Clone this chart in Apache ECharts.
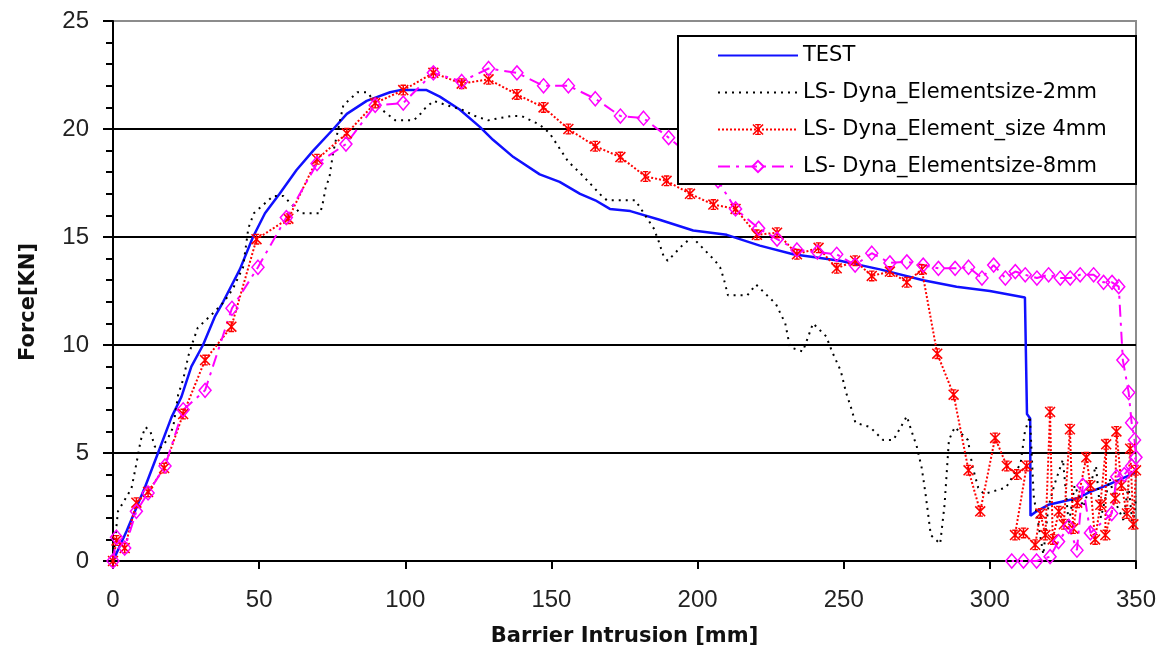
<!DOCTYPE html>
<html>
<head>
<meta charset="utf-8">
<script src="https://cdn.jsdelivr.net/npm/echarts@6/dist/echarts.min.js"></script>
<style>
  html, body { margin: 0; padding: 0; background: #fff; }
  #chart { width: 1160px; height: 654px; }
</style>
</head>
<body>
<div id="chart"></div>
<script>
// series names as in the legend
var seriesNames = ['TEST', 'LS- Dyna_Elementsize-2mm', 'LS- Dyna_Element_size 4mm', 'LS- Dyna_Elementsize-8mm'];

// [intrusion mm, force kN]
var testData = [
  [0,0],[4.7,1.4],[10.9,3.4],[15.4,5.0],[20,6.65],[23.4,7.6],[26.8,9.0],[30.8,10.0],[34.8,11.3],[37.7,12.0],
  [43.4,13.5],[47.9,15.0],[52,16.1],[57,17.0],[62.8,18.1],[68.5,19.0],[75.4,20.0],[80,20.7],[86.8,21.3],
  [94.8,21.7],[98.2,21.8],[107.3,21.8],[111.8,21.5],[118.6,20.9],[125.5,20.1],[130,19.5],[137,18.7],[146,17.9],
  [152.8,17.55],[159.8,17.0],[165,16.7],[170,16.3],[177,16.2],[187,15.8],[198.5,15.3],[210,15.1],[221.3,14.6],
  [232.7,14.2],[248.7,13.9],[262.4,13.5],[277.2,13.0],[288.6,12.7],[300,12.5],[312,12.2],[312.6,12.2],
  [312.7,6.8],[313.8,6.6],[313.9,2.1],[316,2.3],[320,2.6],[326.4,2.8],[329.8,2.9],[334.3,3.2],[340,3.5],
  [345,3.8],[350,4.1]
];

var mesh2Data = [
  [0,0],[1.7,2.3],[6.3,3.35],[8,4.5],[9.5,5.6],[11.1,6.2],[12.8,6.0],[14.3,5.3],[16,5.2],[18.5,5.6],[20.6,6.2],
  [22.3,7.7],[24,8.4],[25.8,9.5],[27.2,10.1],[29,10.8],[33.7,11.4],[38,12.0],[41,12.6],[44.5,13.6],[46.3,15.4],
  [48.2,16.1],[54.8,16.9],[58.3,16.9],[64.1,16.1],[70.9,16.1],[72,16.7],[72.6,17.2],[74.1,17.8],[75.3,18.9],
  [77.7,20.4],[78.8,21.1],[83.6,21.7],[87,21.7],[91,21.0],[96.6,20.4],[102.8,20.4],[104.6,20.6],[106.3,20.9],
  [109.7,21.3],[114.2,21.1],[119.3,20.9],[123.9,20.6],[128.4,20.4],[132,20.5],[136.4,20.6],[139.8,20.6],
  [146,20.2],[149.4,19.8],[155.7,18.5],[161,17.8],[167.2,16.9],[169,16.7],[178.7,16.7],[185,15.4],[186.7,14.8],
  [188.4,14.1],[189.8,13.9],[194.7,14.6],[198.1,15.0],[206,13.9],[207.7,13.6],[208.9,13.1],[210.4,12.3],
  [217,12.3],[220,12.8],[226.8,11.9],[230,11.0],[231.6,9.9],[236,9.7],[239.5,11.0],[244,10.4],[246,9.7],
  [249,8.8],[250.8,7.8],[252.5,7.1],[254,6.4],[259,6.2],[263.5,5.6],[267,5.6],[271.6,6.7],[273,6.1],[275,5.3],
  [276.7,4.3],[278,3.1],[279.8,1.2],[283,0.8],[284.5,2.6],[286,5.6],[288,6.2],[292.5,5.6],[294,4.4],[296,3.4],
  [298,3.1],[305.5,3.4],[310.5,4.5],[312,6.0],[313.7,6.7],[315,3.0],[318.3,0.3],[320,2.5],[322,3.5],[325,4.7],
  [327,1.7],[329,3.5],[332,2.5],[336.3,4.4],[338,2.0],[341,3.8],[343,2.7],[345.7,1.9],[347.4,3.5],[349,1.5],[350,3.0]
];

var mesh4Data = [
  [0,0],[1.2,0.95],[4,0.6],[8,2.7],[12,3.2],[17.5,4.3],[24,6.8],[31.5,9.3],[40.5,10.85],[49.1,14.9],[60,15.85],
  [69.8,18.6],[80,19.8],[89.7,21.2],[99.3,21.8],[109.6,22.6],[119.3,22.1],[128.5,22.3],[138.2,21.6],[147.3,21.0],
  [155.8,20.0],[165,19.2],[173.6,18.7],[182.2,17.8],[189.4,17.6],[197.4,17.0],[205.4,16.5],[213,16.3],[220.3,15.1],
  [227.2,15.2],[234,14.2],[241.4,14.5],[247.6,13.55],[253.9,13.9],[259.6,13.2],[265.8,13.4],[271.6,12.9],
  [276.7,13.5],[282,9.6],[287.6,7.7],[292.7,4.2],[296.7,2.3],[301.8,5.7],[305.8,4.4],[309.2,4.0],[312.6,4.4],
  [308.6,1.2],[311.5,1.3],[315.5,0.75],[317.3,2.2],[319,1.2],[320.6,6.9],[321.5,1.0],[323.6,2.3],[325.3,1.7],
  [327.4,6.1],[328.5,1.5],[329.9,2.7],[333,4.8],[334.4,3.5],[336,1.0],[337.8,2.6],[339.8,5.4],[339.5,1.2],
  [342.9,2.9],[343.3,6.0],[345,3.5],[346.9,2.2],[348,5.2],[349.1,1.7],[350,4.2]
];

var mesh8Data = [
  [0,0],[1.2,1.1],[4,0.6],[8,2.3],[12,3.15],[17.8,4.4],[24,7.0],[31.5,7.9],[40.7,11.7],[49.6,13.6],[59.3,15.9],
  [69.8,18.4],[79.7,19.3],[89.7,21.1],[99.3,21.2],[109.6,22.6],[119.3,22.2],[128.5,22.8],[138.2,22.6],[147.3,22.0],
  [155.8,22.0],[165,21.4],[173.6,20.6],[181.5,20.5],[190.1,19.6],[199,18.6],[207,17.6],[213,16.3],[220.9,15.4],
  [227.2,14.9],[234,14.4],[241,14.3],[247.6,14.2],[253.9,13.7],[259.6,14.25],[265.8,13.8],[271.6,13.85],
  [277.2,13.7],[282.4,13.55],[288.1,13.55],[292.7,13.6],[297.3,13.1],[301.3,13.7],[305.3,13.1],[308.7,13.4],
  [312.1,13.25],[316.1,13.1],[320.1,13.25],[324.1,13.1],[327.5,13.1],[330.9,13.25],[335.5,13.25],[338.9,12.9],
  [341.8,12.9],[344.1,12.7],[345.5,9.3],[347.5,7.8],[348.5,6.4],[349.5,5.6],[350,4.8],[348.5,4.4],[346,4.0],
  [343.4,3.9],[341.7,2.2],[334.4,1.3],[331.8,3.5],[329.8,0.5],[327,1.6],[323.5,0.9],[320.6,0.2],[316,0],
  [311.5,0],[307.5,0]
];

// asterisk marker like the old Excel "*" marker
var starPath = 'path://M4.3 0H5.7V10H4.3Z M0 1L1 0L10 9L9 10Z M9 0L10 1L1 10L0 9Z M2.5 0H7.5V1.2H2.5Z M2.5 8.8H7.5V10H2.5Z';

var chart = echarts.init(document.getElementById('chart'));

var tickFont = { fontFamily: 'Liberation Sans', fontSize: 24, color: '#222' };
var nameFont = { fontFamily: 'DejaVu Sans', fontWeight: 'bold', fontSize: 21, color: '#111' };
var noMarker = 'rgba(0,0,0,0)'; // hides the legend dot on the plain line series

var option = {
  animation: false,
  backgroundColor: '#fff',
  grid: {
    left: 113, right: 24, top: 21, bottom: 93,
    show: true, borderColor: '#8c8c8c', borderWidth: 2, backgroundColor: '#fff'
  },
  xAxis: {
    type: 'value', min: 0, max: 350, interval: 50,
    name: 'Barrier Intrusion [mm]', nameLocation: 'middle', nameGap: 65,
    nameTextStyle: nameFont,
    axisLine: { lineStyle: { color: '#000', width: 2 } },
    axisTick: { length: 8, lineStyle: { color: '#000', width: 2 } },
    axisLabel: Object.assign({ margin: 27 }, tickFont),
    splitLine: { show: false }
  },
  yAxis: {
    type: 'value', min: 0, max: 25, interval: 5,
    name: 'Force[KN]', nameLocation: 'middle', nameGap: 74,
    nameTextStyle: Object.assign({ padding: [0, 22, 0, 0] }, nameFont),
    axisLine: { show: true, lineStyle: { color: '#000', width: 2 } },
    axisTick: { length: 10, lineStyle: { color: '#000', width: 2 } },
    minorTick: { show: true, splitNumber: 5, length: 7, lineStyle: { color: '#000', width: 2 } },
    axisLabel: Object.assign({ margin: 24 }, tickFont),
    splitLine: { show: true, showMinLine: false, showMaxLine: false, lineStyle: { color: '#000', width: 2 } }
  },
  legend: {
    orient: 'vertical', left: 717, top: 45, padding: 0,
    itemWidth: 80, itemHeight: 14, itemGap: 16, z: 20,
    textStyle: { fontFamily: 'DejaVu Sans', fontSize: 21, lineHeight: 21, color: '#000' },
    data: seriesNames
  },
  graphic: [{
    type: 'rect', left: 677, top: 35, z: 10,
    shape: { width: 458, height: 148 },
    style: { fill: '#fff', stroke: '#000', lineWidth: 2 }
  }],
  series: [
    {
      name: seriesNames[0], type: 'line', data: testData, showSymbol: false, symbol: 'none',
      lineStyle: { color: '#1010ff', width: 2.5 }, itemStyle: { color: noMarker }
    },
    {
      name: seriesNames[1], type: 'line', data: mesh2Data, symbol: 'none',
      lineStyle: { color: '#000', width: 2, type: [2, 5] }, itemStyle: { color: noMarker }
    },
    {
      name: seriesNames[2], type: 'line', data: mesh4Data, symbol: starPath, symbolSize: 11,
      lineStyle: { color: '#ff0000', width: 2, type: [2, 2] }, itemStyle: { color: '#ff0000' }
    },
    {
      name: seriesNames[3], type: 'line', data: mesh8Data, symbol: 'diamond', symbolSize: [12, 14],
      lineStyle: { color: '#ff00ff', width: 2, type: [12, 6, 3, 6] },
      itemStyle: { color: 'rgba(255,255,255,0)', borderColor: '#ff00ff', borderWidth: 1.5 }
    }
  ]
};

chart.setOption(option);
</script>
</body>
</html>
